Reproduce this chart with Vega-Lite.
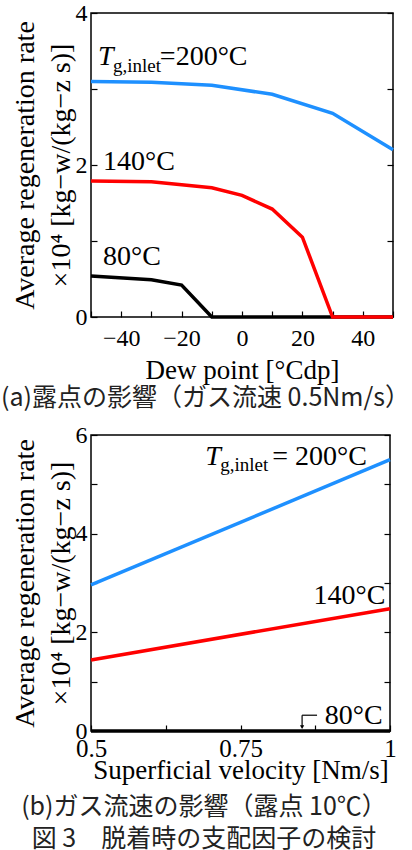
{
  "$schema": "https://vega.github.io/schema/vega-lite/v6.json",
  "padding": {"left": 0, "top": 0, "right": 8, "bottom": 0},
  "bounds": "flush",
  "spacing": 118,
  "config": {
    "font": "Liberation Serif",
    "view": {"stroke": "black", "strokeWidth": 1.5},
    "axis": {
      "domain": false, "grid": false, "labelOverlap": false,
      "tickColor": "black", "tickSize": -6, "tickWidth": 1.2,
      "labelFont": "Liberation Serif", "labelFontSize": 24, "labelColor": "black", "labelPadding": 10,
      "titleFont": "Liberation Serif", "titleFontSize": 27, "titleFontWeight": "normal", "titleColor": "black"
    },
    "text": {"font": "Liberation Serif", "color": "black"}
  },
  "vconcat": [
    {
      "width": 302,
      "height": 304,
      "title": {"text": "(a)露点の影響（ガス流速 0.5Nm/s）", "orient": "bottom", "anchor": "middle", "frame": "bounds", "font": "Noto Sans CJK JP", "fontSize": 25, "fontWeight": "normal", "color": "#222", "offset": 3},
      "resolve": {"axis": {"x": "independent", "y": "independent"}},
      "layer": [
        {
          "data": {"values": [
            {"dew": -50, "rate": 0.54}, {"dew": -30, "rate": 0.49}, {"dew": -20, "rate": 0.42},
            {"dew": -10, "rate": 0}, {"dew": 0, "rate": 0}, {"dew": 10, "rate": 0}, {"dew": 20, "rate": 0},
            {"dew": 30, "rate": 0}, {"dew": 40, "rate": 0}, {"dew": 50, "rate": 0}
          ]},
          "mark": {"type": "line", "color": "black", "strokeWidth": 3.5},
          "encoding": {
            "x": {"field": "dew", "type": "quantitative", "scale": {"domain": [-50, 50], "nice": false},
              "axis": {"values": [-50, -40, -30, -20, -10, 0, 10, 20, 30, 40, 50], "labelExpr": "datum.value == -40 ? '−40' : datum.value == -20 ? '−20' : datum.value == 0 ? '0' : datum.value == 20 ? '20' : datum.value == 40 ? '40' : ''", "labelOverlap": false, "labelFlush": false, "title": "Dew point [°Cdp]", "titlePadding": 7, "labelPadding": 15}},
            "y": {"field": "rate", "type": "quantitative", "scale": {"domain": [0, 4], "nice": false},
              "axis": {"values": [0, 1, 2, 3, 4], "labelExpr": "datum.value == 0 ? '0' : datum.value == 2 ? '2' : datum.value == 4 ? '4' : ''", "labelOverlap": false, "title": ["Average regeneration rate", "×10⁴ [kg−w/(kg−z s)]"], "titleFontSize": 28, "titleLineHeight": 36, "titlePadding": 0}}
          }
        },
        {
          "data": {"values": [
            {"dew": -50, "rate": 1.79}, {"dew": -30, "rate": 1.78}, {"dew": -10, "rate": 1.70},
            {"dew": 0, "rate": 1.60}, {"dew": 10, "rate": 1.42}, {"dew": 20, "rate": 1.05},
            {"dew": 30, "rate": 0}, {"dew": 40, "rate": 0}, {"dew": 50, "rate": 0}
          ]},
          "mark": {"type": "line", "color": "#ff0000", "strokeWidth": 3.5},
          "encoding": {
            "x": {"field": "dew", "type": "quantitative", "axis": null},
            "y": {"field": "rate", "type": "quantitative", "axis": null}
          }
        },
        {
          "data": {"values": [
            {"dew": -50, "rate": 3.10}, {"dew": -30, "rate": 3.09}, {"dew": -10, "rate": 3.05},
            {"dew": 10, "rate": 2.93}, {"dew": 30, "rate": 2.68}, {"dew": 50, "rate": 2.20}
          ]},
          "mark": {"type": "line", "color": "#1e90ff", "strokeWidth": 3.5},
          "encoding": {
            "x": {"field": "dew", "type": "quantitative", "axis": null},
            "y": {"field": "rate", "type": "quantitative",
              "axis": {"orient": "right", "values": [0, 1, 2, 3, 4], "labels": false, "title": null}}
          }
        },
        {
          "data": {"values": [{"dew": -47.7, "rate": 3.32, "label": "T"}]},
          "mark": {"type": "text", "fontSize": 28, "fontStyle": "italic", "align": "left", "baseline": "alphabetic"},
          "encoding": {
            "x": {"field": "dew", "type": "quantitative", "axis": null},
            "y": {"field": "rate", "type": "quantitative", "axis": null},
            "text": {"field": "label"}
          }
        },
        {
          "data": {"values": [{"dew": -42.7, "rate": 3.22, "label": "g,inlet"}]},
          "mark": {"type": "text", "fontSize": 19, "align": "left", "baseline": "alphabetic"},
          "encoding": {
            "x": {"field": "dew", "type": "quantitative", "axis": null},
            "y": {"field": "rate", "type": "quantitative", "axis": null},
            "text": {"field": "label"}
          }
        },
        {
          "data": {"values": [
            {"dew": -27.2, "rate": 3.32, "label": "=200°C"},
            {"dew": -46, "rate": 1.93, "label": "140°C"},
            {"dew": -46, "rate": 0.68, "label": "80°C"}
          ]},
          "mark": {"type": "text", "fontSize": 28, "align": "left", "baseline": "alphabetic"},
          "encoding": {
            "x": {"field": "dew", "type": "quantitative", "axis": null},
            "y": {"field": "rate", "type": "quantitative", "axis": null},
            "text": {"field": "label"}
          }
        }
      ]
    },
    {
      "width": 299,
      "height": 296,
      "title": {"text": ["(b)ガス流速の影響（露点 10℃）", "図 3　脱着時の支配因子の検討"], "orient": "bottom", "anchor": "middle", "frame": "bounds", "font": "Noto Sans CJK JP", "fontSize": 25, "lineHeight": 32, "fontWeight": "normal", "color": "#222", "offset": 12},
      "resolve": {"axis": {"x": "independent", "y": "independent"}},
      "layer": [
        {
          "data": {"values": [{"velocity": 0.5, "rate": 0}, {"velocity": 1.0, "rate": 0}]},
          "mark": {"type": "line", "color": "black", "strokeWidth": 3.5},
          "encoding": {
            "x": {"field": "velocity", "type": "quantitative", "scale": {"domain": [0.5, 1], "nice": false},
              "axis": {"values": [0.5, 0.625, 0.75, 0.875, 1], "labelExpr": "datum.value == 0.5 ? '0.5' : datum.value == 0.75 ? '0.75' : datum.value == 1 ? '1' : ''", "labelOverlap": false, "labelFlush": false, "labelFontSize": 25, "title": "Superficial velocity  [Nm/s]", "titlePadding": -4, "labelPadding": 11}},
            "y": {"field": "rate", "type": "quantitative", "scale": {"domain": [0, 6], "nice": false},
              "axis": {"values": [0, 1, 2, 3, 4, 5, 6], "labelExpr": "datum.value == 0 ? '0' : datum.value == 2 ? '2' : datum.value == 4 ? '4' : datum.value == 6 ? '6' : ''", "labelOverlap": false, "title": ["Average regeneration rate", "×10⁴ [kg−w/(kg−z s)]"], "titleFontSize": 28, "titleLineHeight": 36, "titlePadding": 0}}
          }
        },
        {
          "data": {"values": [{"velocity": 0.5, "rate": 1.44}, {"velocity": 1.0, "rate": 2.48}]},
          "mark": {"type": "line", "color": "#ff0000", "strokeWidth": 3.5},
          "encoding": {
            "x": {"field": "velocity", "type": "quantitative", "axis": null},
            "y": {"field": "rate", "type": "quantitative", "axis": null}
          }
        },
        {
          "data": {"values": [{"velocity": 0.5, "rate": 2.96}, {"velocity": 1.0, "rate": 5.5}]},
          "mark": {"type": "line", "color": "#1e90ff", "strokeWidth": 3.5},
          "encoding": {
            "x": {"field": "velocity", "type": "quantitative", "axis": null},
            "y": {"field": "rate", "type": "quantitative",
              "axis": {"orient": "right", "values": [0, 1, 2, 3, 4, 5, 6], "labels": false, "title": null}}
          }
        },
        {
          "data": {"values": [
            {"velocity": 0.853, "velocity2": 0.878, "rate": 0.32, "rate2": 0.32},
            {"velocity": 0.853, "velocity2": 0.853, "rate": 0.32, "rate2": 0.1}
          ]},
          "mark": {"type": "rule", "color": "black", "strokeWidth": 1.2},
          "encoding": {
            "x": {"field": "velocity", "type": "quantitative", "axis": null},
            "x2": {"field": "velocity2"},
            "y": {"field": "rate", "type": "quantitative", "axis": null},
            "y2": {"field": "rate2"}
          }
        },
        {
          "data": {"values": [{"velocity": 0.853, "rate": 0.08}]},
          "mark": {"type": "point", "shape": "triangle-down", "filled": true, "color": "black", "size": 18, "opacity": 1},
          "encoding": {
            "x": {"field": "velocity", "type": "quantitative", "axis": null},
            "y": {"field": "rate", "type": "quantitative", "axis": null}
          }
        },
        {
          "data": {"values": [{"velocity": 0.691, "rate": 5.40, "label": "T"}]},
          "mark": {"type": "text", "fontSize": 28, "fontStyle": "italic", "align": "left", "baseline": "alphabetic"},
          "encoding": {
            "x": {"field": "velocity", "type": "quantitative", "axis": null},
            "y": {"field": "rate", "type": "quantitative", "axis": null},
            "text": {"field": "label"}
          }
        },
        {
          "data": {"values": [{"velocity": 0.716, "rate": 5.27, "label": "g,inlet"}]},
          "mark": {"type": "text", "fontSize": 19, "align": "left", "baseline": "alphabetic"},
          "encoding": {
            "x": {"field": "velocity", "type": "quantitative", "axis": null},
            "y": {"field": "rate", "type": "quantitative", "axis": null},
            "text": {"field": "label"}
          }
        },
        {
          "data": {"values": [
            {"velocity": 0.803, "rate": 5.40, "label": "= 200°C"},
            {"velocity": 0.872, "rate": 2.58, "label": "140°C"},
            {"velocity": 0.891, "rate": 0.14, "label": "80°C"}
          ]},
          "mark": {"type": "text", "fontSize": 28, "align": "left", "baseline": "alphabetic"},
          "encoding": {
            "x": {"field": "velocity", "type": "quantitative", "axis": null},
            "y": {"field": "rate", "type": "quantitative", "axis": null},
            "text": {"field": "label"}
          }
        }
      ]
    }
  ]
}
